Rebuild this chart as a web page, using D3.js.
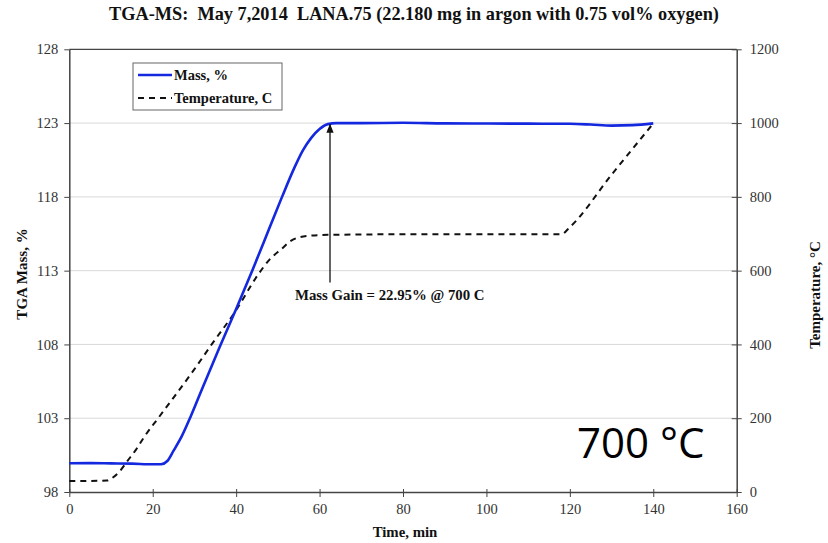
<!DOCTYPE html>
<html>
<head>
<meta charset="utf-8">
<script src="https://cdn.jsdelivr.net/npm/d3@7"></script>
<style>
  html, body { margin: 0; padding: 0; background: #fff; }
  svg { display: block; }
</style>
</head>
<body>
<svg id="chart" width="828" height="543"></svg>
<script>
// ---- data ----
const massTime = [0, 5, 10, 15, 20, 22, 23.5, 25, 27, 29, 32, 36, 40, 44, 48, 51, 54, 56, 58, 60, 62, 64, 70, 80, 90, 100, 110, 120, 125, 130, 135, 140];
const massValue = [99.95, 99.96, 99.94, 99.92, 99.88, 99.88, 100.1, 100.8, 101.8, 103.05, 105.1, 107.8, 110.4, 113.1, 115.9, 118.0, 120.0, 121.15, 122.0, 122.6, 122.93, 123.0, 123.0, 123.02, 122.98, 122.97, 122.96, 122.95, 122.9, 122.83, 122.86, 122.98];
const tempTime = [0, 5, 9, 10, 12, 14, 16, 18, 21.3, 25, 30, 34, 40, 45, 48, 51, 53, 55, 58, 62, 70, 90, 118, 120, 130, 140];
const tempValue = [30, 30, 31, 36, 55, 85, 115, 150, 200, 256, 333, 398, 493, 585, 630, 660, 680, 690, 695, 697, 698, 699, 699, 718, 860, 999];
const xTicks = [0, 20, 40, 60, 80, 100, 120, 140, 160];
const leftTicks = [98, 103, 108, 113, 118, 123, 128];
const rightTicks = [0, 200, 400, 600, 800, 1000, 1200];
const titleText = "TGA-MS:  May 7,2014  LANA.75 (22.180 mg in argon with 0.75 vol% oxygen)";
const xTitle = "Time, min";
const yLeftTitle = "TGA Mass, %";
const yRightTitle = "Temperature, \u00B0C";
const legendLabels = ["Mass, %", "Temperature, C"];
const annotation = { text: "Mass Gain = 22.95% @ 700 C", t: 62.5, from: 112.2, to: 122.9 };
const bigLabel = "700 \u00B0C";

// ---- layout ----
const L = 69.3, R = 736.7, T = 49.3, B = 492;
const svg = d3.select("#chart");
const x = d3.scaleLinear().domain([0, 160]).range([L, R]);
const yL = d3.scaleLinear().domain([98, 128]).range([B, T]);
const yR = d3.scaleLinear().domain([0, 1200]).range([B, T]);
const serif = "'Liberation Serif', 'Times New Roman', serif";

// gridlines
svg.append("g").selectAll("line").data(leftTicks.filter(d => d > 98 && d < 128)).join("line")
  .attr("x1", L).attr("x2", R).attr("y1", d => yL(d)).attr("y2", d => yL(d))
  .attr("stroke", "#d9d9d9").attr("stroke-width", 1);

// frame top
svg.append("line").attr("x1", L).attr("x2", R).attr("y1", T).attr("y2", T)
  .attr("stroke", "#444").attr("stroke-width", 1.3);

// axes
const axisStyle = g => {
  g.selectAll(".domain").attr("stroke", "#444").attr("stroke-width", 1.5);
  g.selectAll(".tick line").attr("stroke", "#444").attr("stroke-width", 1);
  g.selectAll(".tick text").attr("fill", "#333").style("font-family", serif).style("font-size", "14.5px");
};
const gX = svg.append("g").attr("transform", `translate(0,${B})`)
  .call(d3.axisBottom(x).tickValues(xTicks).tickSize(5).tickSizeOuter(0).tickPadding(7))
  .call(axisStyle);
gX.selectAll(".tick line").attr("y1", -3);
svg.append("g").attr("transform", `translate(${L},0)`)
  .call(d3.axisLeft(yL).tickValues(leftTicks).tickSize(5).tickSizeOuter(0).tickPadding(6))
  .call(axisStyle);
const gR = svg.append("g").attr("transform", `translate(${R},0)`)
  .call(d3.axisRight(yR).tickValues(rightTicks).tickFormat(d3.format("d")).tickSize(5).tickSizeOuter(0).tickPadding(8))
  .call(axisStyle);
gR.selectAll(".tick line").attr("x1", -5);

// series
const massData = massTime.map((t, i) => [t, massValue[i]]);
const tempData = tempTime.map((t, i) => [t, tempValue[i]]);
svg.append("path").datum(tempData)
  .attr("d", d3.line().x(d => x(d[0])).y(d => yR(d[1])).curve(d3.curveMonotoneX))
  .attr("fill", "none").attr("stroke", "#111").attr("stroke-width", 2)
  .attr("stroke-dasharray", "6,5");
svg.append("path").datum(massData)
  .attr("d", d3.line().x(d => x(d[0])).y(d => yL(d[1])).curve(d3.curveMonotoneX))
  .attr("fill", "none").attr("stroke", "#1428e0").attr("stroke-width", 2.6);

// annotation arrow
svg.append("defs").append("marker").attr("id", "ah")
  .attr("viewBox", "0 0 10 10").attr("refX", 9).attr("refY", 5)
  .attr("markerWidth", 7).attr("markerHeight", 8).attr("orient", "auto")
  .append("path").attr("d", "M0,1 L10,5 L0,9 Z").attr("fill", "#111");
svg.append("line")
  .attr("x1", x(annotation.t)).attr("x2", x(annotation.t))
  .attr("y1", yL(annotation.from)).attr("y2", yL(annotation.to))
  .attr("stroke", "#111").attr("stroke-width", 1.3).attr("marker-end", "url(#ah)");
svg.append("text").attr("x", 295).attr("y", 300)
  .style("font-family", serif).style("font-weight", "bold").style("font-size", "14.8px")
  .attr("fill", "#111").text(annotation.text);

// legend
const lg = svg.append("g");
lg.append("rect").attr("x", 133).attr("y", 63).attr("width", 149).attr("height", 47)
  .attr("fill", "#fff").attr("stroke", "#666").attr("stroke-width", 1);
lg.append("line").attr("x1", 138).attr("x2", 172).attr("y1", 75).attr("y2", 75)
  .attr("stroke", "#1428e0").attr("stroke-width", 2.6);
lg.append("line").attr("x1", 138).attr("x2", 172).attr("y1", 98).attr("y2", 98)
  .attr("stroke", "#111").attr("stroke-width", 2).attr("stroke-dasharray", "6,5");
lg.selectAll("text").data(legendLabels).join("text")
  .attr("x", 174).attr("y", (d, i) => 80 + i * 23)
  .style("font-family", serif).style("font-weight", "bold").style("font-size", "14.5px")
  .attr("fill", "#111").text(d => d);

// titles
svg.append("text").attr("x", 414).attr("y", 20).attr("text-anchor", "middle")
  .style("font-family", serif).style("font-weight", "bold").style("font-size", "18.3px")
  .style("white-space", "pre").attr("xml:space", "preserve")
  .attr("fill", "#111").text(titleText);
svg.append("text").attr("x", 405).attr("y", 537).attr("text-anchor", "middle")
  .style("font-family", serif).style("font-weight", "bold").style("font-size", "14.8px")
  .attr("fill", "#111").text(xTitle);
svg.append("text").attr("transform", "translate(27,274) rotate(-90)").attr("text-anchor", "middle")
  .style("font-family", serif).style("font-weight", "bold").style("font-size", "15px")
  .attr("fill", "#111").text(yLeftTitle);
svg.append("text").attr("transform", "translate(820,295) rotate(-90)").attr("text-anchor", "middle")
  .style("font-family", serif).style("font-weight", "bold").style("font-size", "15px")
  .attr("fill", "#111").text(yRightTitle);

// big label
svg.append("text").attr("x", 577).attr("y", 458)
  .style("font-family", "'Open Sans', 'Liberation Sans', sans-serif").style("font-size", "42px")
  .attr("fill", "#000").text(bigLabel);
</script>
</body>
</html>
